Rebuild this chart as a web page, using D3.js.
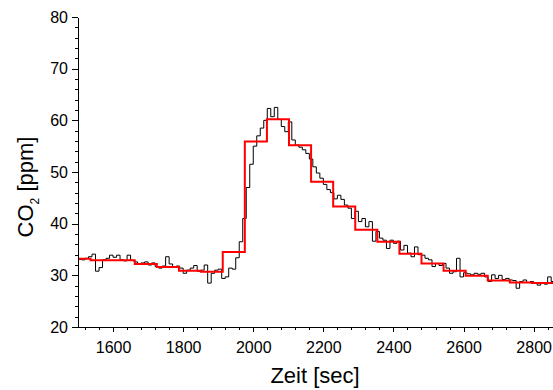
<!DOCTYPE html>
<html>
<head>
<meta charset="utf-8">
<script src="https://cdn.jsdelivr.net/npm/d3@7"></script>
<style>
  body { margin: 0; background: #fff; }
  svg { font-family: 'Liberation Sans', Arial, sans-serif; }
  .axis path, .axis line { stroke: #000; stroke-width: 1; shape-rendering: crispEdges; }
  .axis text { font-size: 16px; fill: #000; }
</style>
</head>
<body>
<div id="plot-container"></div>
<script>
// measured CO2 trace, one value every 10 sec starting at 1500 sec
var timeStart = 1500, timeStep = 10;
var co2 = [
  33.1, 33.0, 33.3, 33.6, 34.1, 30.8, 31.5, 33.0, 33.3, 33.9,
  33.5, 33.9, 33.0, 32.8, 33.9, 32.9, 32.6, 32.3, 32.4, 32.6,
  32.0, 32.4, 31.7, 31.4, 31.8, 33.6, 32.2, 31.6, 31.8, 31.4,
  30.4, 31.0, 31.4, 31.9, 30.8, 31.0, 32.0, 28.5, 30.4, 31.0,
  31.2, 29.4, 29.7, 31.4, 31.2, 33.4, 36.5, 41.0, 47.0, 51.5,
  55.0, 57.0, 58.5, 60.0, 62.3, 60.7, 62.5, 60.2, 58.8, 57.8,
  59.7, 56.2, 55.2, 54.8, 54.3, 53.6, 52.5, 51.0, 49.8, 48.8,
  47.6, 46.6, 46.0, 44.8, 45.5, 44.7, 43.6, 43.0, 41.0, 42.4,
  40.4, 41.0, 39.4, 40.4, 36.6, 38.5, 37.2, 36.8, 35.2, 36.8,
  36.2, 36.6, 34.9, 35.8, 34.3, 33.6, 35.5, 34.0, 33.9, 33.3,
  33.0, 31.7, 32.3, 31.9, 32.3, 31.4, 30.4, 30.7, 33.3, 29.7,
  30.5, 30.3, 30.1, 30.4, 30.2, 30.4, 29.7, 28.8, 30.1, 29.4,
  30.0, 29.2, 29.4, 29.1, 29.0, 27.5, 28.8, 29.1, 28.6, 28.8,
  28.5, 28.1, 28.6, 28.3, 29.7, 28.8, 29.0
];

// averaged CO2 (red steps): start time of each interval and its mean
var stepStarts = [1500, 1536, 1599, 1662, 1725, 1788, 1851, 1913, 1976, 2039, 2102, 2165,
                  2228, 2291, 2354, 2417, 2480, 2543, 2606, 2669, 2732, 2795, 2858, 2900];
var stepMeans = [33.2, 32.9, 32.9, 32.2, 31.6, 30.9, 30.7, 34.5, 55.9, 60.2, 55.2, 48.1,
                 43.3, 38.8, 36.5, 34.2, 32.3, 30.9, 29.9, 29.0, 28.6, 28.5, 28.6, 28.6];

var xTicks = [1600, 1800, 2000, 2200, 2400, 2600, 2800];
var yTicks = [20, 30, 40, 50, 60, 70, 80];

// The configuration parameters
var totalWidth = 553, totalHeight = 390;
var margins = {top: 17, left: 78, bottom: 63};
var height = totalHeight - margins.top - margins.bottom;
var pxPerSec = 0.3505;

var xScale = d3.scaleLinear().domain([1500, 2900]).range([0, 1400 * pxPerSec]);
var yScale = d3.scaleLinear().domain([20, 80]).range([height, 0]);

var trace = co2.map(function(d, i) { return [timeStart + i * timeStep, d]; });
var steps = stepMeans.map(function(d, i) { return [stepStarts[i], d]; });

var line = d3.line().curve(d3.curveStepAfter)
  .x(function(d) { return xScale(d[0]); }).y(function(d) { return yScale(d[1]); });

var svg = d3.select('#plot-container').append('svg').attr('width', totalWidth).attr('height', totalHeight);
var plot = svg.append('g').attr('transform', 'translate(' + [margins.left, margins.top] + ')');

// data lines
plot.append('path').datum(trace).attr('d', line)
  .attr('fill', 'none').attr('stroke', '#000').attr('stroke-width', 1);
plot.append('path').datum(steps).attr('d', line)
  .attr('fill', 'none').attr('stroke', '#ff0000').attr('stroke-width', 2);

// minor ticks first, then major axes with labels
plot.append('g').attr('class', 'axis').attr('transform', 'translate(0,' + height + ')')
  .call(d3.axisBottom(xScale).tickValues(d3.range(1520, 2900, 40)).tickSize(3).tickFormat(''))
  .select('.domain').remove();
plot.append('g').attr('class', 'axis')
  .call(d3.axisLeft(yScale).tickValues(d3.range(22, 80, 2)).tickSize(3).tickFormat(''))
  .select('.domain').remove();

var xAxis = plot.append('g').attr('class', 'axis').attr('transform', 'translate(0,' + height + ')')
  .call(d3.axisBottom(xScale).tickValues(xTicks).tickSize(5).tickSizeOuter(0).tickPadding(10).tickFormat(d3.format('d')));
var yAxis = plot.append('g').attr('class', 'axis')
  .call(d3.axisLeft(yScale).tickValues(yTicks).tickSize(6).tickSizeOuter(0).tickPadding(4).tickFormat(d3.format('d')));

// axis titles
svg.append('text').attr('x', 315).attr('y', 383).attr('text-anchor', 'middle')
  .style('font-size', '22px').text('Zeit [sec]');

var yTitle = svg.append('text').attr('transform', 'translate(33,187) rotate(-90)')
  .attr('text-anchor', 'middle').style('font-size', '22px');
yTitle.append('tspan').text('CO');
yTitle.append('tspan').attr('dy', 6).style('font-size', '12px').text('2');
yTitle.append('tspan').attr('dy', -6).text(' [ppm]');
</script>
</body>
</html>
